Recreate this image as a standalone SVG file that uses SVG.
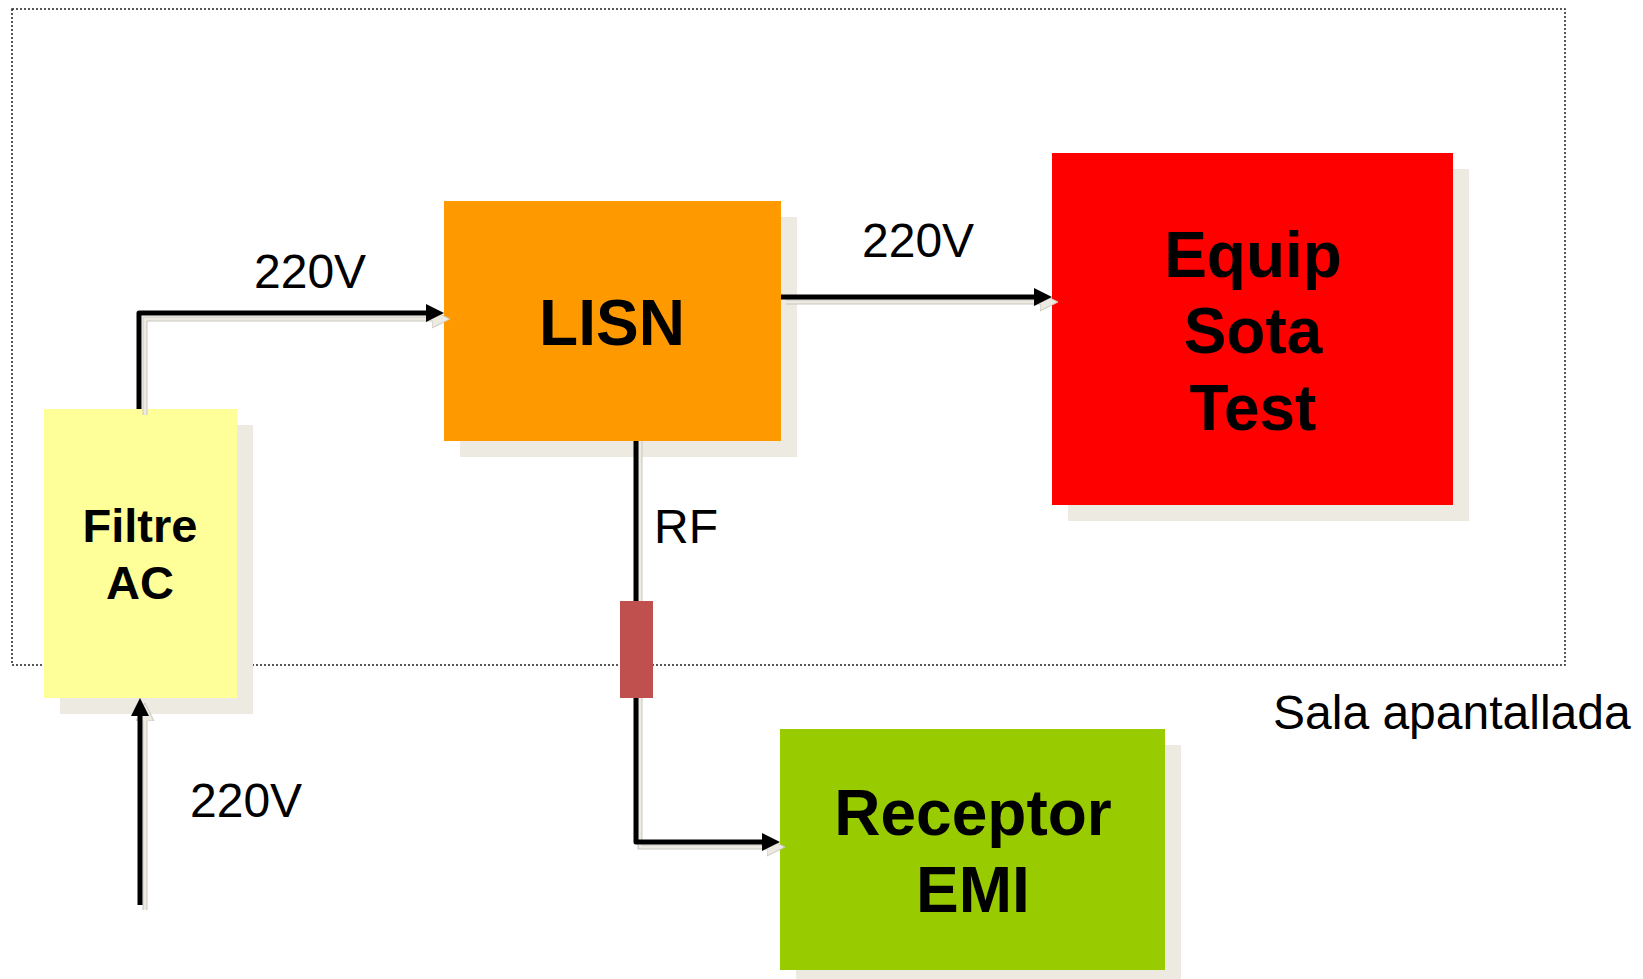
<svg xmlns="http://www.w3.org/2000/svg" width="1643" height="979" viewBox="0 0 1643 979">
<style>
.shadow{fill:#EDEBE1}
.lbl{font-family:"Liberation Sans",Arial,sans-serif;font-size:48px;fill:#000}
.big{font-family:"Liberation Sans",Arial,sans-serif;font-weight:bold;font-size:64px;fill:#000;text-anchor:middle}
.mid{font-family:"Liberation Sans",Arial,sans-serif;font-weight:bold;font-size:47px;fill:#000;text-anchor:middle}
.wire{fill:none;stroke:#000;stroke-width:5;stroke-linejoin:round;marker-end:url(#ah)}
.wireS{fill:none;stroke:#C9C7BD;stroke-width:5;marker-end:url(#ahS)}
.wireS2{fill:none;stroke:#EDEBE1;stroke-width:3}
</style>
<defs>
<marker id="ah" markerUnits="userSpaceOnUse" markerWidth="20" markerHeight="20" refX="8" refY="9" orient="auto">
<path d="M0,0 L18,9 L0,18 z" fill="#000"/>
</marker>
<marker id="ahS" markerUnits="userSpaceOnUse" markerWidth="22" markerHeight="22" refX="8" refY="9" orient="auto">
<path d="M0,0 L18,9 L0,18 z" fill="#EDEBE1" stroke="#C9C7BD" stroke-width="1"/>
</marker>
</defs>
<rect x="12" y="9" width="1553" height="656" fill="none" stroke="#222" stroke-width="1.5" stroke-dasharray="2 2"/>
<g id="filtre">
<rect class="shadow" x="60" y="425" width="193" height="289"/>
<rect x="44" y="409" width="193" height="289" fill="#FFFF99"/>
<text class="mid" x="140" y="542">Filtre</text>
<text class="mid" x="140" y="599">AC</text>
</g>
<g id="lisn">
<rect class="shadow" x="460" y="217" width="337" height="240"/>
<rect x="444" y="201" width="337" height="240" fill="#FF9900"/>
<text class="big" x="612" y="345">LISN</text>
</g>
<g id="equip">
<rect class="shadow" x="1068" y="169" width="401" height="352"/>
<rect x="1052" y="153" width="401" height="352" fill="#FF0000"/>
<text class="big" x="1253" y="277">Equip</text>
<text class="big" x="1253" y="353">Sota</text>
<text class="big" x="1253" y="430">Test</text>
</g>
<g id="receptor">
<rect class="shadow" x="796" y="745" width="385" height="241"/>
<rect x="780" y="729" width="385" height="241" fill="#99CC00"/>
<text class="big" x="973" y="835">Receptor</text>
<text class="big" x="973" y="912">EMI</text>
</g>
<g id="connectors">
<path class="wireS" d="M145,415 V319 H440"/>
<path class="wireS2" d="M145,415 V319 H436"/>
<path class="wire" d="M139,409 V313 H434"/>
<path class="wireS" d="M786,302 H1048"/>
<path class="wireS2" d="M786,302 H1044"/>
<path class="wire" d="M781,297 H1042"/>
<path class="wireS" d="M145,910 V713"/>
<path class="wireS2" d="M145,910 V717"/>
<path class="wire" d="M140,905 V708"/>
<path class="wireS" d="M640,441 V847 H775"/>
<path class="wireS2" d="M640,441 V847 H771"/>
<path class="wire" d="M636,441 V842 H770"/>
</g>
<g id="resistor">
<rect x="620" y="601" width="33" height="97" fill="#C0504D"/>
</g>
<g id="labels">
<text class="lbl" x="254" y="288">220V</text>
<text class="lbl" x="862" y="257">220V</text>
<text class="lbl" x="190" y="817">220V</text>
<text class="lbl" x="654" y="543">RF</text>
<text class="lbl" x="1273" y="729">Sala apantallada</text>
</g>
</svg>
